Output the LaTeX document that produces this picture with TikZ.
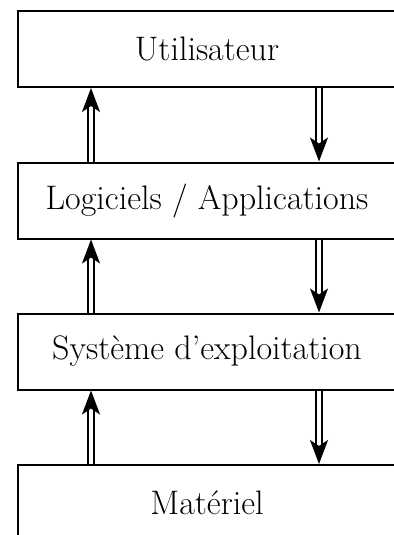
\documentclass[tikz,border=0pt]{standalone}
\usetikzlibrary{arrows.meta,calc}
\begin{document}
\begin{tikzpicture}[x=0.5pt,y=-0.5pt,
  layerbox/.style={draw,line width=1pt,minimum width=189pt,minimum height=38pt,inner sep=0pt,
    font=\fontsize{17}{20}\selectfont},
  dbl/.style={double,line width=0.9pt,double distance=1.8pt,
    -{Stealth[length=12pt,width=9pt,inset=3pt]}}]
\useasboundingbox (0,0) rectangle (394,535);
\node[layerbox] (u) at (207,49) {Utilisateur};
\node[layerbox] (l) at (207,200.5) {Logiciels / Applications};
\node[layerbox] (s) at (207,351.5) {Système d'exploitation};
\node[layerbox] (m) at (207,503) {Matériel};
\foreach \a/\b in {l/u,s/l,m/s}{
  \draw[dbl] ($(\a.north west)+(74,0)$) -- ($(\b.south west)+(74,0)$);
  \draw[dbl] ($(\b.south west)+(302,0)$) -- ($(\a.north west)+(302,0)$);
}
\end{tikzpicture}
\end{document}
